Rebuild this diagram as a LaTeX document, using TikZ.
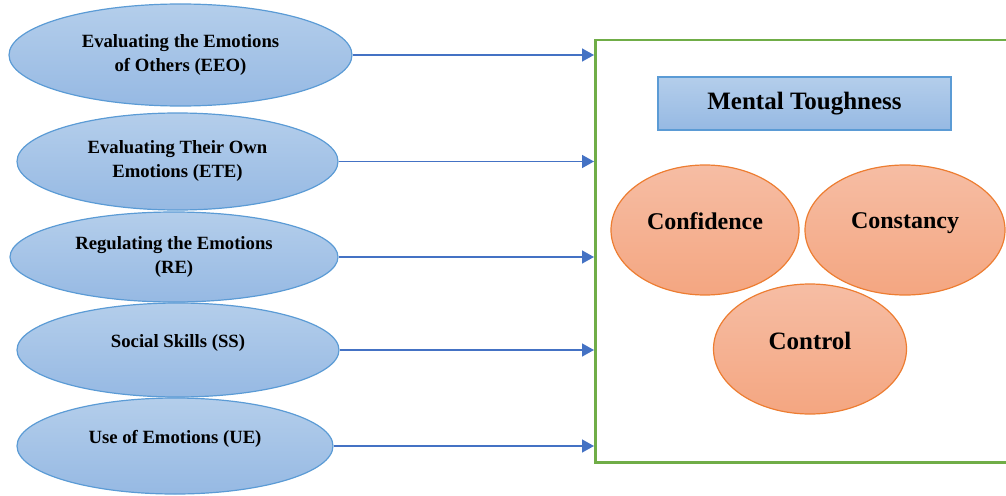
\documentclass[tikz,border=0pt]{standalone}
\usepackage{fontspec}
\setmainfont{Liberation Serif}
\usetikzlibrary{arrows.meta,shapes.geometric}

\definecolor{emoline}{HTML}{5B9BD5}
\definecolor{emotop}{HTML}{B4CEEB}
\definecolor{emobot}{HTML}{96B9E3}
\definecolor{traitline}{HTML}{ED7D31}
\definecolor{traittop}{HTML}{F6BDA4}
\definecolor{traitbot}{HTML}{F4A681}
\definecolor{framegreen}{HTML}{70AD47}
\definecolor{arrowblue}{HTML}{4472C4}

\begin{document}
\begin{tikzpicture}[
    x=1pt, y=-1pt,
    emo/.style={ellipse, draw=emoline, line width=1.2pt, top color=emotop, bottom color=emobot,
        inner sep=0pt, align=center, font=\fontsize{18.7}{24}\selectfont\bfseries},
    trait/.style={ellipse, draw=traitline, line width=1.2pt, top color=traittop, bottom color=traitbot,
        inner sep=0pt, minimum height=130pt, font=\fontsize{24}{28}\selectfont\bfseries},
    heading/.style={rectangle, draw=emoline, line width=1.6pt, top color=emotop, bottom color=emobot,
        minimum width=293pt, minimum height=53pt, font=\fontsize{25}{30}\selectfont\bfseries},
    frame/.style={rectangle, draw=framegreen, line width=2.5pt, minimum width=420pt, minimum height=422pt},
    arrow/.style={-{Triangle[length=12pt,width=13pt]}, line width=1.5pt, draw=arrowblue},
    raised/.style={text depth=#1}
]
\useasboundingbox (0,0) rectangle (1006,495);

% Emotional intelligence dimensions
\node[emo, minimum width=343pt, minimum height=102pt] (eeo) at (180.5,55) {Evaluating the Emotions\\of Others (EEO)};
\node[emo, minimum width=321pt, minimum height=97pt] (ete) at (177.5,161.5) {Evaluating Their Own\\Emotions (ETE)};
\node[emo, minimum width=328pt, minimum height=90pt] (re) at (174,257) {Regulating the Emotions\\(RE)};
\node[emo, minimum width=322pt, minimum height=94pt, raised=18pt] (ss) at (178,350) {Social Skills (SS)};
\node[emo, minimum width=316pt, minimum height=96pt, raised=18pt] (ue) at (175,446) {Use of Emotions (UE)};

% Mental toughness frame
\node[frame, anchor=north west] (mt) at (594,39) {};
\node[heading] (mthead) at (804.5,103.5) {Mental Toughness};
\node[trait, minimum width=188pt, raised=18.5pt] (conf) at (705,230) {Confidence};
\node[trait, minimum width=200pt, raised=18.5pt] (cons) at (905,230) {Constancy};
\node[trait, minimum width=193pt, raised=17pt, font=\fontsize{25}{30}\selectfont\bfseries] (ctrl) at (810,349) {Control};

% Arrows
\foreach \src in {eeo,ete,re,ss,ue}
    \draw[arrow] (\src.east) -- (\src.east -| mt.west);

\end{tikzpicture}
\end{document}
